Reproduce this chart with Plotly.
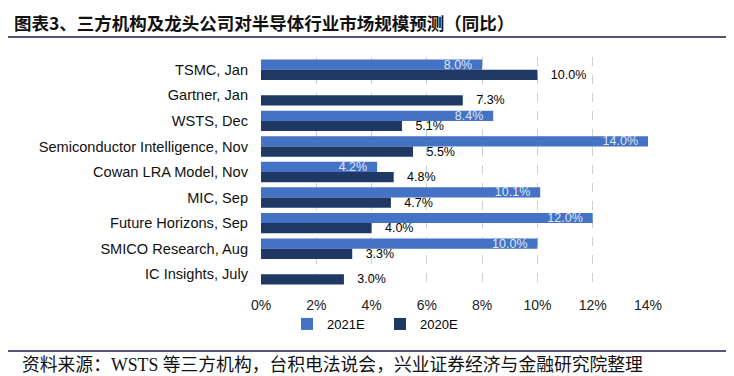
import plotly.graph_objects as go

categories = ["TSMC, Jan", "Gartner, Jan", "WSTS, Dec", "Semiconductor Intelligence, Nov",
              "Cowan LRA Model, Nov", "MIC, Sep", "Future Horizons, Sep",
              "SMICO Research, Aug", "IC Insights, July"]
vals_2021 = [8.0, None, 8.4, 14.0, 4.2, 10.1, 12.0, 10.0, None]
vals_2020 = [10.0, 7.3, 5.1, 5.5, 4.8, 4.7, 4.0, 3.3, 3.0]
x_ticks = [0, 2, 4, 6, 8, 10, 12, 14]
x_ticklabels = ["0%", "2%", "4%", "6%", "8%", "10%", "12%", "14%"]

OFF = 8  # browser default page margin
W, H = 734 - OFF, 376 - OFF
L, R, T, B = 261 - OFF, 86, 57 - OFF, 89
pw, ph = W - L - R, H - T - B

def px(x):
    return (x - OFF - L) / pw

def py(y):
    return (H - B - (y - OFF)) / ph

font_lat = "Liberation Sans, Arial, sans-serif"

fig = go.Figure()
fig.add_trace(go.Bar(
    name="2021E", y=categories, x=vals_2021, orientation="h",
    marker=dict(color="#4472C4", line=dict(width=0)),
    texttemplate="%{x:.1f}%\u00a0\u00a0", textposition="inside", insidetextanchor="end",
    textfont=dict(color="#dfe7f5", size=12.5, family=font_lat),
    constraintext="none", cliponaxis=False,
))
fig.add_trace(go.Bar(
    name="2020E", y=categories, x=vals_2020, orientation="h",
    marker=dict(color="#1F3864", line=dict(width=0)),
    texttemplate="\u00a0\u00a0\u00a0%{x:.1f}%", textposition="outside",
    textfont=dict(color="#000000", size=12.5, family=font_lat),
    constraintext="none", cliponaxis=False,
))

fig.update_layout(
    width=W, height=H,
    margin=dict(l=L, r=R, t=T, b=B, autoexpand=False),
    paper_bgcolor="white", plot_bgcolor="white",
    barmode="group", bargap=0.2, bargroupgap=0.0,
    font=dict(family=font_lat, size=13, color="#000000"),
    showlegend=True,
    legend=dict(orientation="h", x=px(380), xanchor="center", y=py(324), yanchor="middle",
                font=dict(size=13, family=font_lat), traceorder="normal",
                itemwidth=30, entrywidth=48, entrywidthmode="pixels",
                bgcolor="rgba(0,0,0,0)"),
)
fig.update_xaxes(range=[0, 14], tickvals=x_ticks, ticktext=x_ticklabels,
                 showgrid=True, gridcolor="#d0d0d0", griddash="dash", gridwidth=1,
                 zeroline=False, showline=False, ticks="", ticklabelstandoff=8,
                 tickfont=dict(size=14, color="#222222"))
fig.update_yaxes(autorange="reversed", showgrid=False, zeroline=False, showline=False,
                 ticks="", ticklabelstandoff=12, tickfont=dict(size=14.6, color="#111111"))

# title
fig.add_annotation(text="<b>图表3、三方机构及龙头公司对半导体行业市场规模预测（同比）</b>",
                   xref="paper", yref="paper", x=px(12), y=py(22), xanchor="left", yanchor="middle",
                   showarrow=False,
                   font=dict(family="Noto Sans CJK SC", size=17.5, color="#111111"))

# header and footer rules
fig.add_shape(type="line", xref="paper", yref="paper", x0=px(6), x1=px(731), y0=py(37), y1=py(37),
              line=dict(color="#55557a", width=2))
fig.add_shape(type="line", xref="paper", yref="paper", x0=px(6), x1=px(731), y0=py(351), y1=py(351),
              line=dict(color="#55557a", width=2))

fig.add_annotation(text="资料来源：WSTS 等三方机构，台积电法说会，兴业证券经济与金融研究院整理",
                   xref="paper", yref="paper", x=px(20), y=py(365), xanchor="left", yanchor="middle",
                   showarrow=False,
                   font=dict(family="Liberation Serif, Noto Sans CJK SC, serif", size=17.8, color="#111111"))

fig.write_html("out.html")
